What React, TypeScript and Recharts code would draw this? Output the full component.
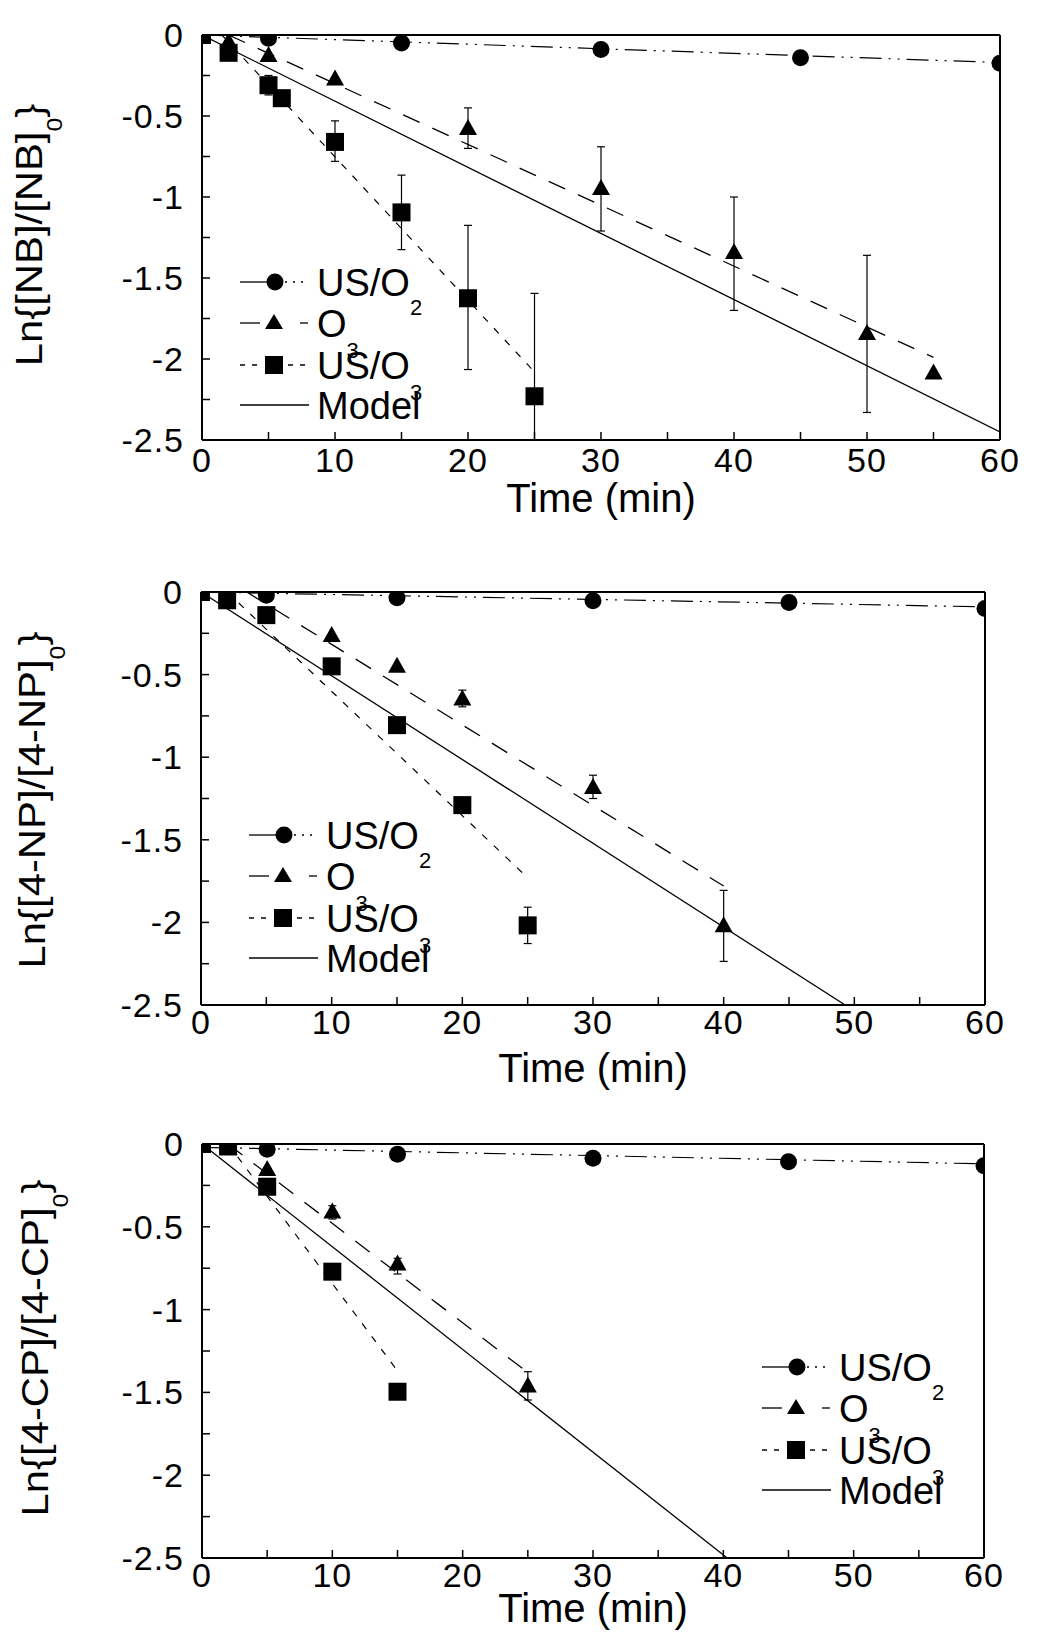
import React from 'react';
import { ComposedChart, Line, Scatter, XAxis, YAxis, ErrorBar, Legend } from 'recharts';

const FONT = '"Liberation Sans", Arial, Helvetica, sans-serif';
const PAGE_W = 1039;

type Pt = { t: number; v: number; e?: [number, number] };

// ---------- shared axis ticks ----------
const xTicks = [0, 5, 10, 15, 20, 25, 30, 35, 40, 45, 50, 55, 60];
const xTickLabels = [0, 10, 20, 30, 40, 50, 60];
const yTicks = [-2.5, -2.25, -2, -1.75, -1.5, -1.25, -1, -0.75, -0.5, -0.25, 0];
const yTickLabels = [-2.5, -2, -1.5, -1, -0.5, 0];
const xTitle = 'Time (min)';

// ---------- Panel 1: NB ----------
const nbUsO2: Pt[] = [
  { t: 0, v: 0 }, { t: 5, v: -0.02 }, { t: 15, v: -0.05 }, { t: 30, v: -0.09 }, { t: 45, v: -0.14 }, { t: 60, v: -0.175 },
];
const nbO3: Pt[] = [
  { t: 0, v: 0 }, { t: 2, v: -0.045 }, { t: 5, v: -0.13 }, { t: 10, v: -0.275 },
  { t: 20, v: -0.58, e: [0.12, 0.13] }, { t: 30, v: -0.95, e: [0.26, 0.26] },
  { t: 40, v: -1.345, e: [0.355, 0.345] }, { t: 50, v: -1.845, e: [0.485, 0.485] }, { t: 55, v: -2.09 },
];
const nbUsO3: Pt[] = [
  { t: 0, v: 0 }, { t: 2, v: -0.11 }, { t: 5, v: -0.31, e: [0.06, 0.06] }, { t: 6, v: -0.39 },
  { t: 10, v: -0.66, e: [0.12, 0.13] }, { t: 15, v: -1.095, e: [0.23, 0.23] },
  { t: 20, v: -1.625, e: [0.44, 0.45] }, { t: 25, v: -2.23, e: [0.27, 0.635] },
];
const nbUsO2Fit = [{ t: 0, v: 0 }, { t: 60, v: -0.17 }];
const nbO3Fit = [{ t: 2, v: 0 }, { t: 55, v: -1.99 }];
const nbUsO3Fit = [{ t: 1.5, v: 0 }, { t: 25, v: -2.08 }];
const nbModel = [{ t: 0, v: 0 }, { t: 60, v: -2.45 }];

// ---------- Panel 2: 4-NP ----------
const npUsO2: Pt[] = [
  { t: 0, v: 0 }, { t: 5, v: -0.02 }, { t: 15, v: -0.035 }, { t: 30, v: -0.053 }, { t: 45, v: -0.063 }, { t: 60, v: -0.1 },
];
const npO3: Pt[] = [
  { t: 0, v: 0 }, { t: 2, v: -0.03 }, { t: 10, v: -0.267 }, { t: 15, v: -0.453 },
  { t: 20, v: -0.65, e: [0.045, 0.056] }, { t: 30, v: -1.186, e: [0.064, 0.077] },
  { t: 40, v: -2.024, e: [0.212, 0.218] },
];
const npUsO3: Pt[] = [
  { t: 0, v: 0 }, { t: 2, v: -0.05 }, { t: 5, v: -0.14 }, { t: 10, v: -0.45 },
  { t: 15, v: -0.806 }, { t: 20, v: -1.29 }, { t: 25, v: -2.018, e: [0.11, 0.11] },
];
const npUsO2Fit = [{ t: 0, v: 0 }, { t: 60, v: -0.09 }];
const npO3Fit = [{ t: 3.5, v: 0 }, { t: 40, v: -1.78 }];
const npUsO3Fit = [{ t: 2, v: 0 }, { t: 25, v: -1.73 }];
const npModel = [{ t: 0, v: 0 }, { t: 49.3, v: -2.5 }];

// ---------- Panel 3: 4-CP ----------
const cpUsO2: Pt[] = [
  { t: 0, v: 0 }, { t: 5, v: -0.032 }, { t: 15, v: -0.062 }, { t: 30, v: -0.086 }, { t: 45, v: -0.107 }, { t: 60, v: -0.131 },
];
const cpO3: Pt[] = [
  { t: 0, v: 0 }, { t: 5, v: -0.157 }, { t: 10, v: -0.413, e: [0.04, 0.04] },
  { t: 15, v: -0.727, e: [0.058, 0.037] }, { t: 25, v: -1.465, e: [0.081, 0.09] },
];
const cpUsO3: Pt[] = [
  { t: 0, v: 0 }, { t: 2, v: -0.015 }, { t: 5, v: -0.258 }, { t: 10, v: -0.771 }, { t: 15, v: -1.496 },
];
const cpUsO2Fit = [{ t: 0, v: -0.02 }, { t: 60, v: -0.12 }];
const cpO3Fit = [{ t: 2, v: 0 }, { t: 25, v: -1.38 }];
const cpUsO3Fit = [{ t: 2, v: 0 }, { t: 15, v: -1.37 }];
const cpModel = [{ t: 0, v: 0 }, { t: 40.3, v: -2.5 }];

// ---------- styles ----------
const DASH_USO2 = '22 7 2 7 2 7';
const DASH_O3 = '18 14';
const DASH_USO3 = '7 9';

const CircleShape = (p: any) => <circle cx={p.cx} cy={p.cy} r={8.5} fill="#000" />;
const TriShape = (p: any) => (
  <polygon points={`${p.cx},${p.cy - 10} ${p.cx + 9},${p.cy + 6} ${p.cx - 9},${p.cy + 6}`} fill="#000" />
);
const SquareShape = (p: any) => <rect x={p.cx - 9} y={p.cy - 9} width={18} height={18} fill="#000" />;

function LegendBox() {
  const r = [20, 61, 103, 143];
  const ln = { stroke: '#000', strokeWidth: 1.3 };
  const tx = { fontSize: 38, fontFamily: FONT, fill: '#000' };
  return (
    <svg width={260} height={190} style={{ display: 'block', overflow: 'visible' }}>
      <line x1={0} y1={r[0]} x2={27} y2={r[0]} {...ln} />
      <circle cx={35} cy={r[0]} r={8.5} fill="#000" />
      <line x1={45} y1={r[0]} x2={69} y2={r[0]} {...ln} strokeDasharray="2 6" />
      <text x={77} y={r[0] + 13.5} {...tx}>US/O<tspan fontSize={22} dy={19}>2</tspan></text>

      <line x1={0} y1={r[1]} x2={20} y2={r[1]} {...ln} />
      <polygon points={`34,${r[1] - 9} 43,${r[1] + 6} 25,${r[1] + 6}`} fill="#000" />
      <line x1={60} y1={r[1]} x2={68} y2={r[1]} {...ln} />
      <text x={77} y={r[1] + 13.5} {...tx}>O<tspan fontSize={22} dy={21}>3</tspan></text>

      <line x1={0} y1={r[2]} x2={18} y2={r[2]} {...ln} strokeDasharray="5 7" />
      <rect x={25} y={r[2] - 9} width={18} height={18} fill="#000" />
      <line x1={48} y1={r[2]} x2={69} y2={r[2]} {...ln} strokeDasharray="5 7" />
      <text x={77} y={r[2] + 13.5} {...tx}>US/O<tspan fontSize={22} dy={21}>3</tspan></text>

      <line x1={0} y1={r[3]} x2={69} y2={r[3]} {...ln} />
      <text x={77} y={r[3] + 13.5} {...tx}>Model</text>
    </svg>
  );
}

type PanelProps = {
  chartTop: number;
  height: number;
  box: { l: number; r: number; t: number; b: number };
  tickGap: number;
  titleBaseline: number;
  yLabelMain: string;
  yLabelCenter: number;
  yLabelX: number;
  legendLeft: number;
  legendTop: number;
  usO2: Pt[]; o3: Pt[]; usO3: Pt[];
  usO2Fit: Pt[]; o3Fit: Pt[]; usO3Fit: Pt[]; model: Pt[];
};

function Panel(p: PanelProps) {
  const { chartTop, height, box } = p;
  const margin = {
    top: box.t - chartTop - 8,
    right: PAGE_W - box.r - 8,
    left: 0,
    bottom: chartTop + height - box.b - 80,
  };
  const axisLine = { stroke: '#000', strokeWidth: 2 };
  const tickLine = { stroke: '#000', strokeWidth: 1.5 };
  const tickFont = { fontSize: 34, fill: '#000', fontFamily: FONT, letterSpacing: 1 };
  const titleX = (box.l + box.r) / 2;
  const titleY = p.titleBaseline - chartTop;
  const ly = p.yLabelCenter - chartTop;
  const lx = p.yLabelX;
  return (
    <div style={{ position: 'absolute', left: 0, top: chartTop }}>
      <ComposedChart width={PAGE_W} height={height} margin={margin}>
        <XAxis
          dataKey="t" type="number" domain={[0, 60]} ticks={xTicks} interval={0} allowDataOverflow
          tickFormatter={(v: number) => (xTickLabels.includes(v) ? String(v) : '')}
          tickSize={-8} tickMargin={8 + p.tickGap} height={80}
          tick={tickFont} tickLine={tickLine} axisLine={axisLine}
          label={() => (
            <text x={titleX} y={titleY} textAnchor="middle" fontSize={40} fontFamily={FONT} fill="#000">{xTitle}</text>
          )}
        />
        <XAxis
          xAxisId="top" orientation="top" dataKey="t" type="number" domain={[0, 60]} ticks={xTicks} interval={0}
          allowDataOverflow tick={false} tickSize={-8} height={8} tickLine={tickLine} axisLine={axisLine}
        />
        <YAxis
          type="number" domain={[-2.5, 0]} ticks={yTicks} interval={0} allowDataOverflow
          tickFormatter={(v: number) => (yTickLabels.includes(v) ? String(v) : '')}
          tickSize={-8} tickMargin={26} width={box.l}
          tick={tickFont} tickLine={tickLine} axisLine={axisLine}
          label={() => (
            <text
              transform={`translate(${lx},${ly}) rotate(-90) scale(1.13,1)`}
              textAnchor="middle" fontSize={37} fontFamily={FONT} fill="#000"
            >
              {p.yLabelMain}
              <tspan fontSize={22} dy={20}>0</tspan>
              <tspan dy={-20}>{'}'}</tspan>
            </text>
          )}
        />
        <YAxis
          yAxisId="right" orientation="right" type="number" domain={[-2.5, 0]} ticks={yTicks} interval={0}
          allowDataOverflow tick={false} tickSize={-8} width={8} tickLine={tickLine} axisLine={axisLine}
        />
        <Line data={p.usO2Fit} dataKey="v" type="linear" dot={false} stroke="#000" strokeWidth={1.2}
          strokeDasharray={DASH_USO2} isAnimationActive={false} legendType="none" />
        <Line data={p.o3Fit} dataKey="v" type="linear" dot={false} stroke="#000" strokeWidth={1.3}
          strokeDasharray={DASH_O3} isAnimationActive={false} legendType="none" />
        <Line data={p.usO3Fit} dataKey="v" type="linear" dot={false} stroke="#000" strokeWidth={1.2}
          strokeDasharray={DASH_USO3} isAnimationActive={false} legendType="none" />
        <Line data={p.model} dataKey="v" type="linear" dot={false} stroke="#000" strokeWidth={1.3}
          isAnimationActive={false} legendType="none" />
        <Scatter data={p.usO2} dataKey="v" shape={CircleShape} isAnimationActive={false} legendType="none">
          <ErrorBar dataKey="e" direction="y" width={4} stroke="#000" strokeWidth={1.2} />
        </Scatter>
        <Scatter data={p.o3} dataKey="v" shape={TriShape} isAnimationActive={false} legendType="none">
          <ErrorBar dataKey="e" direction="y" width={4} stroke="#000" strokeWidth={1.2} />
        </Scatter>
        <Scatter data={p.usO3} dataKey="v" shape={SquareShape} isAnimationActive={false} legendType="none">
          <ErrorBar dataKey="e" direction="y" width={4} stroke="#000" strokeWidth={1.2} />
        </Scatter>
        <Legend
          layout="vertical" align="center" verticalAlign="middle"
          content={() => <LegendBox />}
          wrapperStyle={{ position: 'absolute', left: p.legendLeft, top: p.legendTop - chartTop, width: 260, height: 190 }}
        />
      </ComposedChart>
    </div>
  );
}

export default function App() {
  return (
    <div style={{ position: 'absolute', left: 0, top: 0, width: PAGE_W, height: 1641, background: '#fff', overflow: 'hidden' }}>
      <Panel
        chartTop={0} height={550} box={{ l: 202, r: 1000, t: 35, b: 440 }} tickGap={8} titleBaseline={512}
        yLabelMain="Ln{[NB]/[NB]" yLabelCenter={235} yLabelX={42} legendLeft={240} legendTop={262}
        usO2={nbUsO2} o3={nbO3} usO3={nbUsO3} usO2Fit={nbUsO2Fit} o3Fit={nbO3Fit} usO3Fit={nbUsO3Fit} model={nbModel}
      />
      <Panel
        chartTop={550} height={550} box={{ l: 201, r: 985, t: 592, b: 1005 }} tickGap={5} titleBaseline={1082}
        yLabelMain="Ln{[4-NP]/[4-NP]" yLabelCenter={800} yLabelX={45} legendLeft={249} legendTop={815}
        usO2={npUsO2} o3={npO3} usO3={npUsO3} usO2Fit={npUsO2Fit} o3Fit={npO3Fit} usO3Fit={npUsO3Fit} model={npModel}
      />
      <Panel
        chartTop={1100} height={541} box={{ l: 202, r: 984, t: 1144, b: 1558 }} tickGap={5} titleBaseline={1622}
        yLabelMain="Ln{[4-CP]/[4-CP]" yLabelCenter={1348} yLabelX={48} legendLeft={762} legendTop={1347}
        usO2={cpUsO2} o3={cpO3} usO3={cpUsO3} usO2Fit={cpUsO2Fit} o3Fit={cpO3Fit} usO3Fit={cpUsO3Fit} model={cpModel}
      />
    </div>
  );
}
